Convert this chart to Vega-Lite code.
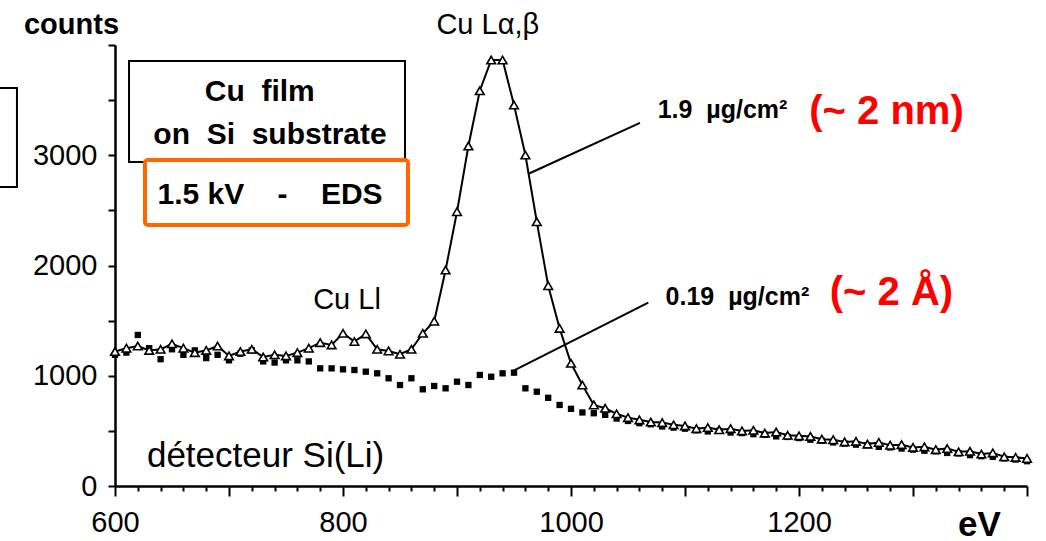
{
  "$schema": "https://vega.github.io/schema/vega-lite/v6.json",
  "autosize": {"type": "none"},
  "width": 912,
  "height": 441,
  "padding": {"left": 115, "top": 45, "right": 19, "bottom": 55},
  "background": "white",
  "config": {"view": {"stroke": null}, "font": "Liberation Sans"},
  "resolve": {"axis": {"x": "independent", "y": "independent"}},
  "datasets": {
    "spectrum": [
      {"eV":600,"counts":1220,"film":"1.9"},{"eV":610,"counts":1250,"film":"1.9"},{"eV":620,"counts":1270,"film":"1.9"},{"eV":630,"counts":1230,"film":"1.9"},{"eV":640,"counts":1240,"film":"1.9"},{"eV":650,"counts":1290,"film":"1.9"},{"eV":660,"counts":1250,"film":"1.9"},{"eV":670,"counts":1210,"film":"1.9"},{"eV":680,"counts":1230,"film":"1.9"},{"eV":690,"counts":1270,"film":"1.9"},
      {"eV":700,"counts":1180,"film":"1.9"},{"eV":710,"counts":1220,"film":"1.9"},{"eV":720,"counts":1240,"film":"1.9"},{"eV":730,"counts":1170,"film":"1.9"},{"eV":740,"counts":1190,"film":"1.9"},{"eV":750,"counts":1180,"film":"1.9"},{"eV":760,"counts":1210,"film":"1.9"},{"eV":770,"counts":1250,"film":"1.9"},{"eV":780,"counts":1300,"film":"1.9"},{"eV":790,"counts":1280,"film":"1.9"},
      {"eV":800,"counts":1385,"film":"1.9"},{"eV":810,"counts":1310,"film":"1.9"},{"eV":820,"counts":1380,"film":"1.9"},{"eV":830,"counts":1240,"film":"1.9"},{"eV":840,"counts":1225,"film":"1.9"},{"eV":850,"counts":1195,"film":"1.9"},{"eV":860,"counts":1240,"film":"1.9"},{"eV":870,"counts":1385,"film":"1.9"},{"eV":880,"counts":1495,"film":"1.9"},{"eV":890,"counts":1959,"film":"1.9"},
      {"eV":900,"counts":2488,"film":"1.9"},{"eV":910,"counts":3084,"film":"1.9"},{"eV":920,"counts":3585,"film":"1.9"},{"eV":930,"counts":3864,"film":"1.9"},{"eV":940,"counts":3864,"film":"1.9"},{"eV":950,"counts":3456,"film":"1.9"},{"eV":960,"counts":3002,"film":"1.9"},{"eV":970,"counts":2397,"film":"1.9"},{"eV":980,"counts":1817,"film":"1.9"},{"eV":990,"counts":1430,"film":"1.9"},
      {"eV":1000,"counts":1113,"film":"1.9"},{"eV":1010,"counts":916,"film":"1.9"},{"eV":1020,"counts":735,"film":"1.9"},{"eV":1030,"counts":705,"film":"1.9"},{"eV":1040,"counts":655,"film":"1.9"},{"eV":1050,"counts":620,"film":"1.9"},{"eV":1060,"counts":600,"film":"1.9"},{"eV":1070,"counts":580,"film":"1.9"},{"eV":1080,"counts":575,"film":"1.9"},{"eV":1090,"counts":555,"film":"1.9"},
      {"eV":1100,"counts":545,"film":"1.9"},{"eV":1110,"counts":520,"film":"1.9"},{"eV":1120,"counts":530,"film":"1.9"},{"eV":1130,"counts":510,"film":"1.9"},{"eV":1140,"counts":520,"film":"1.9"},{"eV":1150,"counts":500,"film":"1.9"},{"eV":1160,"counts":505,"film":"1.9"},{"eV":1170,"counts":480,"film":"1.9"},{"eV":1180,"counts":490,"film":"1.9"},{"eV":1190,"counts":460,"film":"1.9"},
      {"eV":1200,"counts":455,"film":"1.9"},{"eV":1210,"counts":450,"film":"1.9"},{"eV":1220,"counts":425,"film":"1.9"},{"eV":1230,"counts":420,"film":"1.9"},{"eV":1240,"counts":400,"film":"1.9"},{"eV":1250,"counts":405,"film":"1.9"},{"eV":1260,"counts":380,"film":"1.9"},{"eV":1270,"counts":395,"film":"1.9"},{"eV":1280,"counts":370,"film":"1.9"},{"eV":1290,"counts":375,"film":"1.9"},
      {"eV":1300,"counts":350,"film":"1.9"},{"eV":1310,"counts":355,"film":"1.9"},{"eV":1320,"counts":330,"film":"1.9"},{"eV":1330,"counts":340,"film":"1.9"},{"eV":1340,"counts":310,"film":"1.9"},{"eV":1350,"counts":315,"film":"1.9"},{"eV":1360,"counts":290,"film":"1.9"},{"eV":1370,"counts":300,"film":"1.9"},{"eV":1380,"counts":265,"film":"1.9"},{"eV":1390,"counts":260,"film":"1.9"},{"eV":1400,"counts":250,"film":"1.9"},
      {"eV":600,"counts":1190,"film":"0.19"},{"eV":610,"counts":1210,"film":"0.19"},{"eV":620,"counts":1370,"film":"0.19"},{"eV":630,"counts":1250,"film":"0.19"},{"eV":640,"counts":1150,"film":"0.19"},{"eV":650,"counts":1240,"film":"0.19"},{"eV":660,"counts":1190,"film":"0.19"},{"eV":670,"counts":1230,"film":"0.19"},{"eV":680,"counts":1160,"film":"0.19"},{"eV":690,"counts":1190,"film":"0.19"},
      {"eV":700,"counts":1140,"film":"0.19"},{"eV":710,"counts":1200,"film":"0.19"},{"eV":720,"counts":1230,"film":"0.19"},{"eV":730,"counts":1130,"film":"0.19"},{"eV":740,"counts":1120,"film":"0.19"},{"eV":750,"counts":1140,"film":"0.19"},{"eV":760,"counts":1140,"film":"0.19"},{"eV":770,"counts":1130,"film":"0.19"},{"eV":780,"counts":1067,"film":"0.19"},{"eV":790,"counts":1067,"film":"0.19"},
      {"eV":800,"counts":1058,"film":"0.19"},{"eV":810,"counts":1052,"film":"0.19"},{"eV":820,"counts":1037,"film":"0.19"},{"eV":830,"counts":1022,"film":"0.19"},{"eV":840,"counts":977,"film":"0.19"},{"eV":850,"counts":916,"film":"0.19"},{"eV":860,"counts":977,"film":"0.19"},{"eV":870,"counts":877,"film":"0.19"},{"eV":880,"counts":907,"film":"0.19"},{"eV":890,"counts":886,"film":"0.19"},
      {"eV":900,"counts":946,"film":"0.19"},{"eV":910,"counts":916,"film":"0.19"},{"eV":920,"counts":1007,"film":"0.19"},{"eV":930,"counts":991,"film":"0.19"},{"eV":940,"counts":1022,"film":"0.19"},{"eV":950,"counts":1028,"film":"0.19"},{"eV":960,"counts":886,"film":"0.19"},{"eV":970,"counts":855,"film":"0.19"},{"eV":980,"counts":800,"film":"0.19"},{"eV":990,"counts":735,"film":"0.19"},
      {"eV":1000,"counts":700,"film":"0.19"},{"eV":1010,"counts":667,"film":"0.19"},{"eV":1020,"counts":660,"film":"0.19"},{"eV":1030,"counts":645,"film":"0.19"},{"eV":1040,"counts":612,"film":"0.19"},{"eV":1050,"counts":590,"film":"0.19"},{"eV":1060,"counts":570,"film":"0.19"},{"eV":1070,"counts":560,"film":"0.19"},{"eV":1080,"counts":540,"film":"0.19"},{"eV":1090,"counts":530,"film":"0.19"},
      {"eV":1100,"counts":520,"film":"0.19"},{"eV":1110,"counts":505,"film":"0.19"},{"eV":1120,"counts":495,"film":"0.19"},{"eV":1130,"counts":500,"film":"0.19"},{"eV":1140,"counts":485,"film":"0.19"},{"eV":1150,"counts":480,"film":"0.19"},{"eV":1160,"counts":470,"film":"0.19"},{"eV":1170,"counts":465,"film":"0.19"},{"eV":1180,"counts":450,"film":"0.19"},{"eV":1190,"counts":445,"film":"0.19"},
      {"eV":1200,"counts":435,"film":"0.19"},{"eV":1210,"counts":420,"film":"0.19"},{"eV":1220,"counts":410,"film":"0.19"},{"eV":1230,"counts":395,"film":"0.19"},{"eV":1240,"counts":385,"film":"0.19"},{"eV":1250,"counts":375,"film":"0.19"},{"eV":1260,"counts":370,"film":"0.19"},{"eV":1270,"counts":355,"film":"0.19"},{"eV":1280,"counts":350,"film":"0.19"},{"eV":1290,"counts":340,"film":"0.19"},
      {"eV":1300,"counts":330,"film":"0.19"},{"eV":1310,"counts":320,"film":"0.19"},{"eV":1320,"counts":315,"film":"0.19"},{"eV":1330,"counts":300,"film":"0.19"},{"eV":1340,"counts":295,"film":"0.19"},{"eV":1350,"counts":280,"film":"0.19"},{"eV":1360,"counts":270,"film":"0.19"},{"eV":1370,"counts":265,"film":"0.19"},{"eV":1380,"counts":250,"film":"0.19"},{"eV":1390,"counts":240,"film":"0.19"},{"eV":1400,"counts":225,"film":"0.19"}
    ],
    "blackBoxes": [
      {"x1": 470, "x2": 514, "y1": 2712, "y2": 3610},
      {"x1": 612.3, "x2": 854.4, "y1": 2939, "y2": 3855}
    ],
    "orangeBox": [
      {"x1": 626.3, "x2": 857, "y1": 2367, "y2": 2957}
    ],
    "leaders": [
      {"x1": 962.3, "y1": 2830, "x2": 1060.5, "y2": 3293},
      {"x1": 948, "y1": 1037, "x2": 1067.8, "y2": 1663}
    ],
    "massLabels": [
      {"eV": 1076, "counts": 3410, "text": "1.9\u00a0\u00a0µg/cm²"},
      {"eV": 1083, "counts": 1714, "text": "0.19\u00a0\u00a0µg/cm²"}
    ],
    "thickLabels": [
      {"eV": 1209, "counts": 3395, "text": "(~ 2 nm)"},
      {"eV": 1227, "counts": 1755, "text": "(~ 2 Å)"}
    ],
    "peakLabels": [
      {"eV": 927, "counts": 4181, "text": "Cu Lα,β"},
      {"eV": 803.5, "counts": 1687, "text": "Cu Ll"}
    ],
    "boxLabels": [
      {"eV": 727, "counts": 3574, "text": "Cu\u00a0\u00a0film"},
      {"eV": 736, "counts": 3184, "text": "on\u00a0\u00a0Si\u00a0\u00a0substrate"},
      {"eV": 736, "counts": 2640, "text": "1.5 kV\u00a0\u00a0\u00a0\u00a0-\u00a0\u00a0\u00a0\u00a0EDS"}
    ],
    "detLabel": [
      {"eV": 628, "counts": 275, "text": "détecteur Si(Li)"}
    ]
  },
  "layer": [
    {
      "data": {"name": "blackBoxes"},
      "mark": {"type": "rect", "fill": "white", "stroke": "black", "strokeWidth": 2},
      "encoding": {
        "x": {"field": "x1", "type": "quantitative", "scale": {"domain": [600, 1400], "nice": false, "zero": false}, "axis": null},
        "x2": {"field": "x2"},
        "y": {"field": "y1", "type": "quantitative", "scale": {"domain": [0, 4000], "nice": false, "zero": false}, "axis": null},
        "y2": {"field": "y2"}
      }
    },
    {
      "data": {"name": "orangeBox"},
      "mark": {"type": "rect", "fill": "white", "stroke": "#FF6600", "strokeWidth": 4, "cornerRadius": 3},
      "encoding": {
        "x": {"field": "x1", "type": "quantitative", "scale": {"domain": [600, 1400], "nice": false, "zero": false}, "axis": null},
        "x2": {"field": "x2"},
        "y": {"field": "y1", "type": "quantitative", "scale": {"domain": [0, 4000], "nice": false, "zero": false}, "axis": null},
        "y2": {"field": "y2"}
      }
    },
    {
      "data": {"name": "leaders"},
      "mark": {"type": "rule", "color": "black", "strokeWidth": 2},
      "encoding": {
        "x": {"field": "x1", "type": "quantitative", "scale": {"domain": [600, 1400], "nice": false, "zero": false}, "axis": null},
        "x2": {"field": "x2"},
        "y": {"field": "y1", "type": "quantitative", "scale": {"domain": [0, 4000], "nice": false, "zero": false}, "axis": null},
        "y2": {"field": "y2"}
      }
    },
    {
      "data": {"name": "spectrum"},
      "transform": [{"filter": "datum.film === '1.9'"}],
      "mark": {"type": "line", "color": "black", "strokeWidth": 2},
      "encoding": {
        "x": {"field": "eV", "type": "quantitative", "scale": {"domain": [600, 1400], "nice": false, "zero": false},
          "axis": {
            "orient": "bottom",
            "values": [600,620,640,660,680,700,720,740,760,780,800,820,840,860,880,900,920,940,960,980,1000,1020,1040,1060,1080,1100,1120,1140,1160,1180,1200,1220,1240,1260,1280,1300,1320,1340,1360,1380,1400],
            "format": "d",
            "labelExpr": "datum.value % 200 === 0 && datum.value < 1400 ? datum.label : ''",
            "labelFont": "Liberation Sans", "labelFontSize": 29, "labelColor": "black", "labelPadding": 12,
            "labelOverlap": false, "labelFlush": false,
            "tickSize": {"condition": {"test": "datum.value % 100 === 0", "value": 10}, "value": 5},
            "tickColor": "black", "tickWidth": 2, "domainColor": "black", "domainWidth": 2.5, "grid": false,
            "encode": {"ticks": {"y": {"condition": {"test": "datum.value % 100 === 0", "value": -10}, "value": -5}}},
            "title": "eV", "titleFont": "Liberation Sans", "titleFontSize": 35, "titleFontWeight": "bold", "titleColor": "black",
            "titleX": 864, "titleY": 38, "titleAlign": "center", "titleBaseline": "middle", "titleAngle": 0
          }
        },
        "y": {"field": "counts", "type": "quantitative", "scale": {"domain": [0, 4000], "nice": false, "zero": false},
          "axis": {
            "orient": "left",
            "values": [0,500,1000,1500,2000,2500,3000,3500,4000],
            "format": "d",
            "labelExpr": "datum.value % 1000 === 0 && datum.value < 4000 ? datum.label : ''",
            "labelFont": "Liberation Sans", "labelFontSize": 29, "labelColor": "black", "labelPadding": 11,
            "labelOverlap": false, "labelFlush": false,
            "tickSize": 7, "tickColor": "black", "tickWidth": 2, "domainColor": "black", "domainWidth": 2.5, "grid": false,
            "encode": {"ticks": {"x": {"value": 7}}},
            "title": "counts", "titleFont": "Liberation Sans", "titleFontSize": 29, "titleFontWeight": "bold", "titleColor": "black",
            "titleX": -44, "titleY": -12, "titleAlign": "center", "titleBaseline": "alphabetic", "titleAngle": 0
          }
        }
      }
    },
    {
      "data": {"name": "spectrum"},
      "transform": [{"filter": "datum.film === '0.19'"}],
      "mark": {"type": "point", "shape": "square", "filled": true, "color": "black", "size": 40, "opacity": 1},
      "encoding": {
        "x": {"field": "eV", "type": "quantitative", "scale": {"domain": [600, 1400], "nice": false, "zero": false}, "axis": null},
        "y": {"field": "counts", "type": "quantitative", "scale": {"domain": [0, 4000], "nice": false, "zero": false}, "axis": null}
      }
    },
    {
      "data": {"name": "spectrum"},
      "transform": [{"filter": "datum.film === '1.9'"}],
      "mark": {"type": "point", "shape": "triangle-up", "filled": true, "fill": "white", "stroke": "black", "strokeWidth": 1.6, "size": 75, "opacity": 1},
      "encoding": {
        "x": {"field": "eV", "type": "quantitative", "scale": {"domain": [600, 1400], "nice": false, "zero": false}, "axis": null},
        "y": {"field": "counts", "type": "quantitative", "scale": {"domain": [0, 4000], "nice": false, "zero": false}, "axis": null}
      }
    },
    {
      "data": {"name": "massLabels"},
      "mark": {"type": "text", "align": "left", "baseline": "middle", "font": "Liberation Sans", "fontWeight": "bold", "fontSize": 25, "color": "black"},
      "encoding": {
        "x": {"field": "eV", "type": "quantitative", "scale": {"domain": [600, 1400], "nice": false, "zero": false}, "axis": null},
        "y": {"field": "counts", "type": "quantitative", "scale": {"domain": [0, 4000], "nice": false, "zero": false}, "axis": null},
        "text": {"field": "text"}
      }
    },
    {
      "data": {"name": "thickLabels"},
      "mark": {"type": "text", "align": "left", "baseline": "middle", "font": "Liberation Sans", "fontWeight": "bold", "fontSize": 40, "color": "#FF0000"},
      "encoding": {
        "x": {"field": "eV", "type": "quantitative", "scale": {"domain": [600, 1400], "nice": false, "zero": false}, "axis": null},
        "y": {"field": "counts", "type": "quantitative", "scale": {"domain": [0, 4000], "nice": false, "zero": false}, "axis": null},
        "text": {"field": "text"}
      }
    },
    {
      "data": {"name": "peakLabels"},
      "mark": {"type": "text", "align": "center", "baseline": "middle", "font": "Liberation Sans", "fontSize": 29, "color": "black"},
      "encoding": {
        "x": {"field": "eV", "type": "quantitative", "scale": {"domain": [600, 1400], "nice": false, "zero": false}, "axis": null},
        "y": {"field": "counts", "type": "quantitative", "scale": {"domain": [0, 4000], "nice": false, "zero": false}, "axis": null},
        "text": {"field": "text"}
      }
    },
    {
      "data": {"name": "boxLabels"},
      "mark": {"type": "text", "align": "center", "baseline": "middle", "font": "Liberation Sans", "fontWeight": "bold", "fontSize": 30, "color": "black"},
      "encoding": {
        "x": {"field": "eV", "type": "quantitative", "scale": {"domain": [600, 1400], "nice": false, "zero": false}, "axis": null},
        "y": {"field": "counts", "type": "quantitative", "scale": {"domain": [0, 4000], "nice": false, "zero": false}, "axis": null},
        "text": {"field": "text"}
      }
    },
    {
      "data": {"name": "detLabel"},
      "mark": {"type": "text", "align": "left", "baseline": "middle", "font": "Liberation Sans", "fontSize": 35, "color": "black"},
      "encoding": {
        "x": {"field": "eV", "type": "quantitative", "scale": {"domain": [600, 1400], "nice": false, "zero": false}, "axis": null},
        "y": {"field": "counts", "type": "quantitative", "scale": {"domain": [0, 4000], "nice": false, "zero": false}, "axis": null},
        "text": {"field": "text"}
      }
    }
  ]
}
